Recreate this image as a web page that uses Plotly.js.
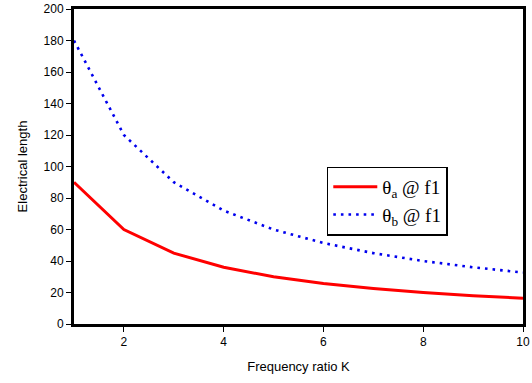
<!DOCTYPE html>
<html>
<head>
<meta charset="utf-8">
<script src="https://cdn.plot.ly/plotly-3.0.1.min.js"></script>
<style>html,body{margin:0;padding:0;background:#fff;}#chart{width:532px;height:383px;}</style>
</head>
<body>
<div id="chart"></div>
<script>
const kValues = [1, 2, 3, 4, 5, 6, 7, 8, 9, 10];
const thetaA = [90, 60, 45, 36, 30, 25.7, 22.5, 20, 18, 16.4];
const thetaB = [180, 120, 90, 72, 60, 51.4, 45, 40, 36, 32.7];
const seriesNames = ['θ<sub>a</sub> @ f1', 'θ<sub>b</sub> @ f1'];
const xTicks = [2, 4, 6, 8, 10];
const yTicks = [0, 20, 40, 60, 80, 100, 120, 140, 160, 180, 200];

const traces = [
  {x: kValues, y: thetaA, name: seriesNames[0], type: 'scatter', mode: 'lines',
   line: {color: '#ff0000', width: 3}},
  {x: kValues, y: thetaB, name: seriesNames[1], type: 'scatter', mode: 'lines',
   line: {color: '#0000ee', width: 2.6, dash: '2.6px,5px'}}
];

const axisCommon = {
  showline: true, mirror: true, linecolor: '#000', linewidth: 3,
  ticks: 'outside', ticklen: 5, tickwidth: 1, tickcolor: '#000',
  showgrid: false, zeroline: false,
  tickfont: {family: 'Liberation Sans, Arial, sans-serif', size: 12, color: '#000'}
};

const layout = {
  width: 532, height: 383,
  margin: {l: 74, r: 9, t: 9, b: 59},
  paper_bgcolor: '#fff', plot_bgcolor: '#fff',
  showlegend: true,
  xaxis: Object.assign({}, axisCommon, {
    range: [1, 10], tickvals: xTicks, ticktext: xTicks.map(String),
    title: {text: 'Frequency ratio K', standoff: 14,
            font: {family: 'Liberation Sans, Arial, sans-serif', size: 13, color: '#000'}}
  }),
  yaxis: Object.assign({}, axisCommon, {
    range: [0, 200], tickvals: yTicks, ticktext: yTicks.map(String),
    title: {text: 'Electrical length', standoff: 14,
            font: {family: 'Liberation Sans, Arial, sans-serif', size: 13, color: '#000'}}
  }),
  legend: {
    x: 0.563, y: 0.5, xanchor: 'left', yanchor: 'top',
    bgcolor: '#fff', bordercolor: '#000', borderwidth: 1.5,
    font: {family: 'Liberation Serif, Times New Roman, serif', size: 19, color: '#000'},
    tracegroupgap: 0, itemwidth: 44
  }
};

Plotly.newPlot('chart', traces, layout, {displayModeBar: false, staticPlot: true});
</script>
</body>
</html>
